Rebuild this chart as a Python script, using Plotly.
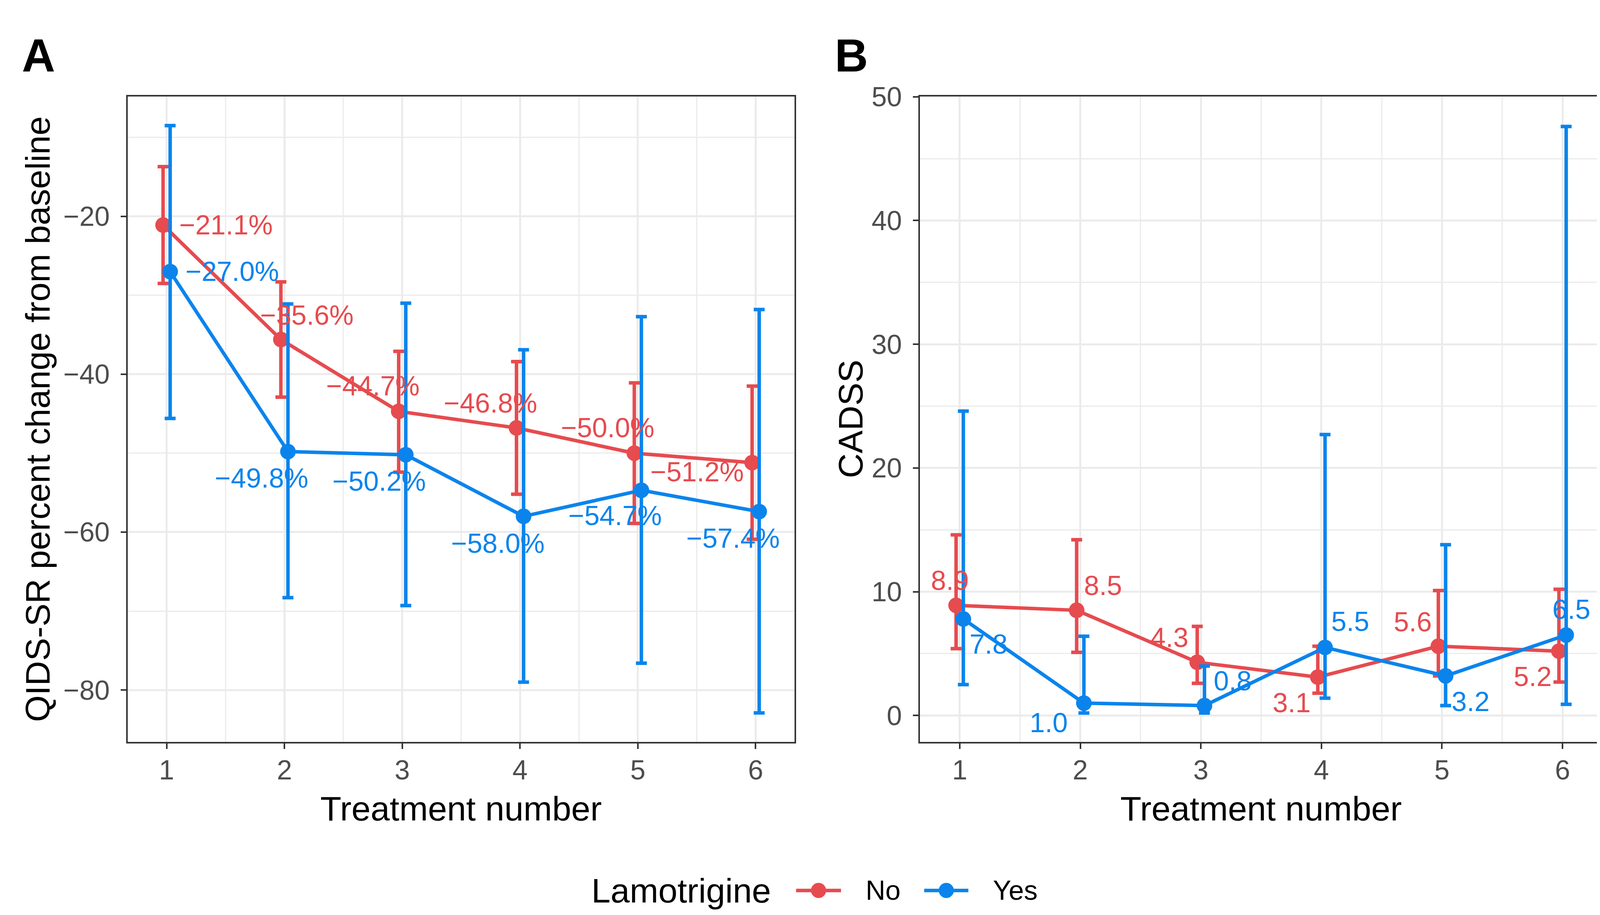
import plotly.graph_objects as go

# ---------------- data ----------------
treatments = [1, 2, 3, 4, 5, 6]
groups = ["No", "Yes"]

qids_no_mean = [-21.1, -35.6, -44.7, -46.8, -50.0, -51.2]
qids_no_low = [-28.5, -42.9, -52.4, -55.2, -58.9, -60.9]
qids_no_high = [-13.7, -28.3, -37.1, -38.4, -41.1, -41.5]

qids_yes_mean = [-27.0, -49.8, -50.2, -58.0, -54.7, -57.4]
qids_yes_low = [-45.6, -68.3, -69.3, -79.0, -76.6, -82.9]
qids_yes_high = [-8.5, -31.1, -31.0, -36.9, -32.7, -31.8]

cadss_no_mean = [8.9, 8.5, 4.3, 3.1, 5.6, 5.2]
cadss_no_low = [5.4, 5.1, 2.6, 1.8, 3.2, 2.7]
cadss_no_high = [14.6, 14.2, 7.2, 5.6, 10.1, 10.2]

cadss_yes_mean = [7.8, 1.0, 0.8, 5.5, 3.2, 6.5]
cadss_yes_low = [2.5, 0.2, 0.2, 1.4, 0.8, 0.9]
cadss_yes_high = [24.6, 6.4, 4.0, 22.7, 13.8, 47.6]

qids_ticks = [-80, -60, -40, -20]
cadss_ticks = [0, 10, 20, 30, 40, 50]

# ---------------- styles ----------------
RED = "#E64B4F"
BLUE = "#0A84EC"
FONT = "Liberation Sans"
W, H = 4150, 2342
DODGE = 0.03

# label pixel offsets (ggrepel-like placement), (xshift, yshift, xanchor)
qids_no_off = [(40, 0, "left"), (66, 62, "center"), (-66, 65, "center"),
               (-67, 63, "center"), (-68, 65, "center"), (-141, -24, "center")]
qids_yes_off = [(37, 0, "left"), (-68, -68, "center"), (-68, -68, "center"),
                (-66, -69, "center"), (-67, -65, "center"), (-67, -69, "center")]
cadss_no_off = [(-16, 63, "center"), (67, 63, "center"), (-71, 63, "center"),
                (-67, -66, "center"), (-66, 62, "center"), (-67, -65, "center")]
cadss_yes_off = [(64, -65, "center"), (-90, -50, "center"), (72, 63, "center"),
                 (64, 66, "center"), (64, -66, "center"), (13, 65, "center")]


def fmt_pct(v):
    s = f"{v:.1f}%"
    return s.replace("-", "\u2212")


def fmt_num(v):
    return f"{v:.1f}".replace("-", "\u2212")


fig = go.Figure()
annotations = []


def add_series(xa, ya, means, lows, highs, color, name, dx, offsets, fmt):
    xs = [t + dx for t in treatments]
    plus = [h - m for h, m in zip(highs, means)]
    minus = [m - l for m, l in zip(means, lows)]
    fig.add_trace(go.Scatter(
        x=xs, y=means, mode="lines+markers", name=name,
        xaxis=xa, yaxis=ya, showlegend=False,
        line=dict(color=color, width=9),
        marker=dict(color=color, size=40),
        error_y=dict(type="data", symmetric=False, array=plus, arrayminus=minus,
                     color=color, thickness=9, width=14),
    ))
    for x, m, (sx, sy, anc) in zip(xs, means, offsets):
        annotations.append(dict(
            x=x, y=m, xref=xa, yref=ya, text=fmt(m), showarrow=False,
            xshift=sx, yshift=sy, xanchor=anc, yanchor="middle",
            font=dict(family=FONT, size=70, color=color),
        ))


add_series("x", "y", qids_no_mean, qids_no_low, qids_no_high, RED, "No", -DODGE, qids_no_off, fmt_pct)
add_series("x", "y", qids_yes_mean, qids_yes_low, qids_yes_high, BLUE, "Yes", DODGE, qids_yes_off, fmt_pct)
add_series("x2", "y2", cadss_no_mean, cadss_no_low, cadss_no_high, RED, "No", -DODGE, cadss_no_off, fmt_num)
add_series("x2", "y2", cadss_yes_mean, cadss_yes_low, cadss_yes_high, BLUE, "Yes", DODGE, cadss_yes_off, fmt_num)

dom_y = [1 - 1884 / H, 1 - 204 / H]
dom_xa = [319 / W, 2026 / W]
dom_xb = [2347 / W, 4094 / W]

common_axis = dict(
    showline=True, mirror=True, linecolor="#333333", linewidth=4,
    ticks="outside", ticklen=14, tickwidth=4, tickcolor="#333333",
    showgrid=True, gridcolor="#EBEBEB", gridwidth=5, zeroline=False,
    tickfont=dict(family=FONT, size=70, color="#4D4D4D"),
)

xaxis_common = dict(common_axis, tickmode="array", tickvals=treatments,
                    ticktext=[str(t) for t in treatments], range=[0.67, 6.33],
                    ticklabelstandoff=-6,
                    minor=dict(showgrid=True, gridcolor="#EBEBEB", gridwidth=3,
                               tickmode="array",
                               tickvals=[t + 0.5 for t in treatments[:-1]]))

fig.update_layout(
    width=W, height=H,
    margin=dict(l=0, r=0, t=0, b=0),
    paper_bgcolor="white", plot_bgcolor="white",
    showlegend=False,
    xaxis=dict(xaxis_common, domain=dom_xa, anchor="y"),
    yaxis=dict(common_axis, domain=dom_y, anchor="x", range=[-86.6, -4.8],
               tickmode="array", tickvals=qids_ticks, ticklabelstandoff=14,
               minor=dict(showgrid=True, gridcolor="#EBEBEB", gridwidth=3,
                          tickmode="array", tickvals=[-70, -50, -30, -10])),
    xaxis2=dict(xaxis_common, domain=dom_xb, anchor="y2"),
    yaxis2=dict(common_axis, domain=dom_y, anchor="x2", range=[-2.15, 50.03],
                tickmode="array", tickvals=cadss_ticks, ticklabelstandoff=14,
                minor=dict(showgrid=True, gridcolor="#EBEBEB", gridwidth=3,
                           tickmode="array", tickvals=[5, 15, 25, 35, 45])),
)

title_font = dict(family=FONT, size=88, color="black")
# axis titles
annotations += [
    dict(text="Treatment number", x=(dom_xa[0] + dom_xa[1]) / 2, y=1 - 2057 / H,
         xref="paper", yref="paper", showarrow=False, xanchor="center", yanchor="middle",
         font=title_font),
    dict(text="Treatment number", x=(dom_xb[0] + dom_xb[1]) / 2, y=1 - 2057 / H,
         xref="paper", yref="paper", showarrow=False, xanchor="center", yanchor="middle",
         font=title_font),
    dict(text="QIDS-SR percent change from baseline", x=88 / W, y=(dom_y[0] + dom_y[1]) / 2,
         xref="paper", yref="paper", showarrow=False, xanchor="center", yanchor="middle",
         textangle=-90, font=title_font),
    dict(text="CADSS", x=2169 / W, y=(dom_y[0] + dom_y[1]) / 2,
         xref="paper", yref="paper", showarrow=False, xanchor="center", yanchor="middle",
         textangle=-90, font=title_font),
    dict(text="<b>A</b>", x=46 / W, y=1 - 98 / H, xref="paper", yref="paper",
         showarrow=False, xanchor="left", yanchor="middle",
         font=dict(family=FONT, size=118, color="black")),
    dict(text="<b>B</b>", x=2127 / W, y=1 - 98 / H, xref="paper", yref="paper",
         showarrow=False, xanchor="left", yanchor="middle",
         font=dict(family=FONT, size=118, color="black")),
]

# custom legend (ggplot-style long keys)
leg_y = 1 - 2270 / H
annotations.append(dict(text="Lamotrigine", x=1504 / W, y=leg_y, xref="paper", yref="paper",
                        showarrow=False, xanchor="left", yanchor="middle", font=title_font))
shapes = []
legend_items = [(groups[0], RED, 2030, 2145, 2206), (groups[1], BLUE, 2358, 2471, 2532)]
for label, color, x0, x1, xt in legend_items:
    shapes.append(dict(type="line", xref="paper", yref="paper", x0=x0 / W, x1=x1 / W,
                       y0=leg_y, y1=leg_y, line=dict(color=color, width=9)))
    cx = (x0 + x1) / 2 / W
    shapes.append(dict(type="circle", xref="paper", yref="paper",
                       xsizemode="pixel", ysizemode="pixel", xanchor=cx, yanchor=leg_y,
                       x0=-19, x1=19, y0=-19, y1=19,
                       fillcolor=color, line=dict(color=color, width=1)))
    annotations.append(dict(text=label, x=xt / W, y=leg_y, xref="paper", yref="paper",
                            showarrow=False, xanchor="left", yanchor="middle",
                            font=dict(family=FONT, size=70, color="black")))

fig.update_layout(annotations=annotations, shapes=shapes)
fig.write_html("out.html")
